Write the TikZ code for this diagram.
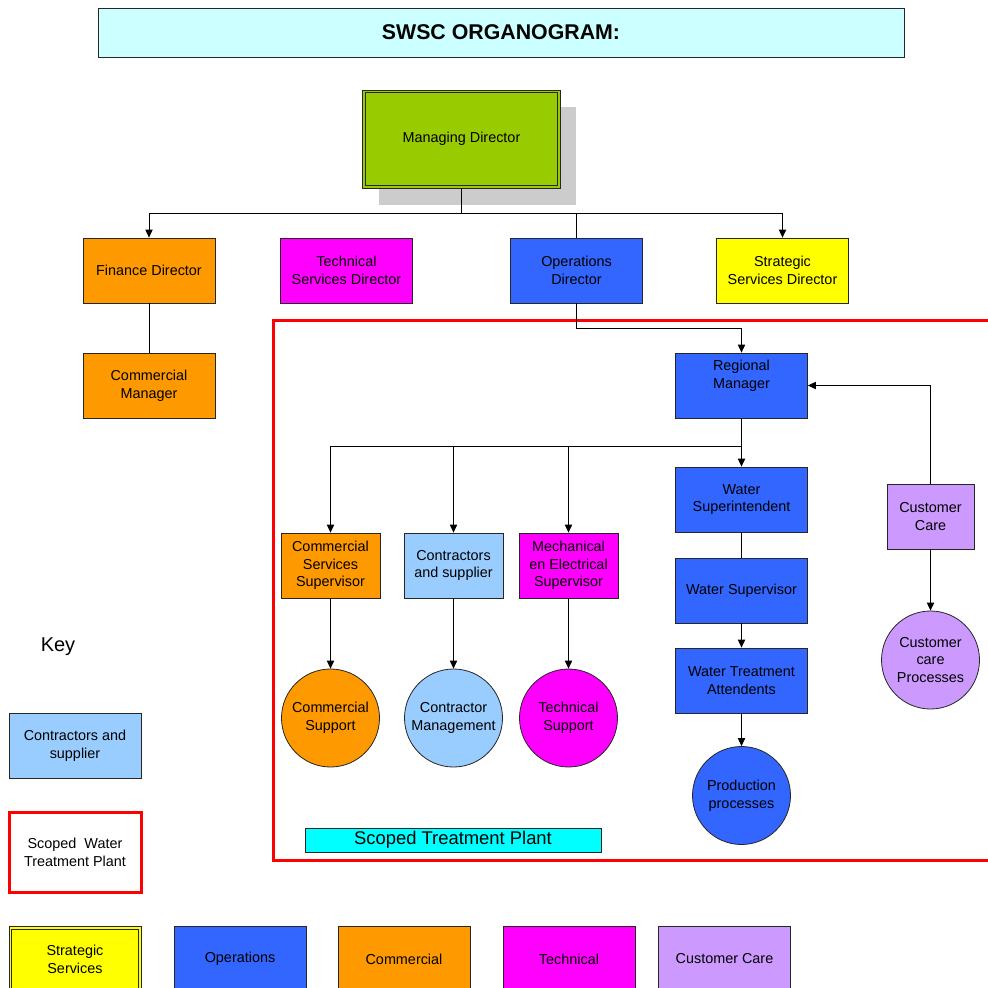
\documentclass[tikz,border=0pt]{standalone}
\usepackage{fontspec}
\setmainfont{Liberation Sans}
\usepackage{xcolor}
\usepackage{tikz}
\usetikzlibrary{arrows.meta,shadows}

\definecolor{titlecyan}{HTML}{CCFFFF}
\definecolor{mdgreen}{HTML}{99CC00}
\definecolor{comorange}{HTML}{FF9900}
\definecolor{techpink}{HTML}{FF00FF}
\definecolor{opsblue}{HTML}{3366FF}
\definecolor{stratyellow}{HTML}{FFFF00}
\definecolor{contblue}{HTML}{99CCFF}
\definecolor{custlilac}{HTML}{CC99FF}
\definecolor{plantcyan}{HTML}{00FFFF}
\definecolor{shadowgray}{HTML}{CCCCCC}

\tikzset{
  txt/.style={font=\fontsize{10.8}{13.3}\selectfont, align=center, text=black},
  post/.style={txt, draw=black!85, line width=0.6pt, inner sep=0pt,
    minimum width=99pt, minimum height=48.75pt},
  smallpost/.style={post, minimum width=74.25pt},
  task/.style={txt, circle, draw=black!85, line width=0.6pt, inner sep=0pt,
    minimum size=73.5pt},
  arr/.style={-{Triangle[length=6pt,width=5.5pt]}},
  link/.style={draw=black, line width=0.6pt},
  inner frame/.style={draw=black!85, line width=0.6pt},
}

\begin{document}
\begin{tikzpicture}[x=0.75pt,y=-0.75pt]
\useasboundingbox (0,0) rectangle (988,988);
\clip (0,0) rectangle (988,988);

%draw title
\node[draw=black!85, line width=0.6pt, fill=titlecyan, minimum width=604.5pt, minimum height=36.75pt,
  font=\fontsize{16}{19}\selectfont\bfseries] (title) at (501,32.5) {SWSC ORGANOGRAM:};

%draw scope frame
\draw[red, line width=2.25pt] (1000,320) -- (273,320) -- (273,860) -- (1000,860);

%draw top posts
\node[post, fill=mdgreen, minimum width=148pt, minimum height=73.5pt,
  drop shadow={shadow xshift=12pt, shadow yshift=-12.5pt, fill=shadowgray, opacity=1}] (md) at (461.5,139) {Managing Director};
\draw[inner frame] ([shift={(2.2pt,-2.2pt)}]md.north west) rectangle ([shift={(-2.2pt,2.2pt)}]md.south east);
\node[post, fill=comorange] (fin) at (149,270.5) {Finance Director};
\node[post, fill=techpink] (tech) at (346.5,270.5) {Technical\\Services Director};
\node[post, fill=opsblue] (ops) at (576.5,270.5) {Operations\\Director};
\node[post, fill=stratyellow] (strat) at (782.5,270.5) {Strategic\\Services Director};
\node[post, fill=comorange] (comm) at (149,385.5) {Commercial\\Manager};

%draw regional posts
\node[post, fill=opsblue] (reg) at (741.5,385.5) {Regional\\Manager\\\strut};
\node[smallpost, fill=comorange] (css) at (330.5,565.5) {Commercial\\Services\\Supervisor};
\node[smallpost, fill=contblue] (cas) at (453.5,565.5) {Contractors\\and supplier};
\node[smallpost, fill=techpink] (mes) at (568.5,565.5) {Mechanical\\en Electrical\\Supervisor};
\node[task, fill=comorange] (csup) at (330.5,718) {Commercial\\Support};
\node[task, fill=contblue] (cman) at (453.5,718) {Contractor\\Management};
\node[task, fill=techpink] (tsup) at (568.5,718) {Technical\\Support};
\node[post, fill=opsblue] (wsi) at (741.5,499.5) {Water\\Superintendent};
\node[post, fill=opsblue] (wsv) at (741.5,590.5) {Water Supervisor};
\node[post, fill=opsblue] (wta) at (741.5,680.5) {Water Treatment\\Attendents};
\node[task, fill=opsblue] (prod) at (741.5,795.5) {Production\\processes};
\node[post, fill=custlilac, minimum width=65.25pt] (cc) at (930.5,516.5) {Customer\\Care};
\node[task, fill=custlilac] (ccp) at (930.5,660) {Customer\\care\\Processes};
\node[draw=black!85, line width=0.6pt, fill=plantcyan, minimum width=222pt, minimum height=18pt,
  inner sep=0pt, font=\fontsize{13.8}{16}\selectfont] (stp) at (453,840) {Scoped Treatment Plant};

%draw connectors
\coordinate (bus) at (461.5,213);
\coordinate (opsturn) at (576.5,328);
\coordinate (branch) at (741.5,446);
\draw[link] (md) -- (bus);
\draw[link, arr] (bus) -| (fin.north);
\draw[link, arr] (bus) -| (strat.north);
\draw[link] (bus) -| (ops.north);
\draw[link] (fin) -- (comm);
\draw[link, arr] (ops.south) -- (opsturn) -| (reg.north);
\draw[link, arr] (reg) -- (wsi);
\foreach \sup in {css, cas, mes}{
   \draw[link, arr] (branch) -| (\sup.north);
}
\foreach \a/\b in {css/csup, cas/cman, mes/tsup}{
   \draw[link, arr] (\a) -- (\b);
}
\draw[link] (wsi) -- (wsv);
\draw[link, arr] (wsv) -- (wta);
\draw[link, arr] (wta) -- (prod);
\draw[link, arr] (cc.north) |- (reg.east);
\draw[link, arr] (cc) -- (ccp);

%draw key
\node[font=\fontsize{15}{18}\selectfont] (key) at (58,647) {Key};
\node[post, fill=contblue] (keycont) at (75,746) {Contractors and\\supplier};
\node[post, draw=red, line width=2.25pt, fill=white, minimum height=60pt] (keyscope) at (75,852.5) {Scoped\ \ Water\\Treatment Plant};
\node[post, fill=stratyellow] (keystrat) at (75,959) {Strategic\\Services};
\draw[inner frame] ([shift={(2.2pt,-2.2pt)}]keystrat.north west) rectangle ([shift={(-2.2pt,2.2pt)}]keystrat.south east);
\node[post, fill=opsblue] (keyops) at (240,959) {Operations};
\node[post, fill=comorange] (keycomm) at (404,959) {Commercial};
\node[post, fill=techpink] (keytech) at (569,959) {Technical};
\node[post, fill=custlilac] (keycust) at (724.5,959) {Customer Care};
\end{tikzpicture}
\end{document}
